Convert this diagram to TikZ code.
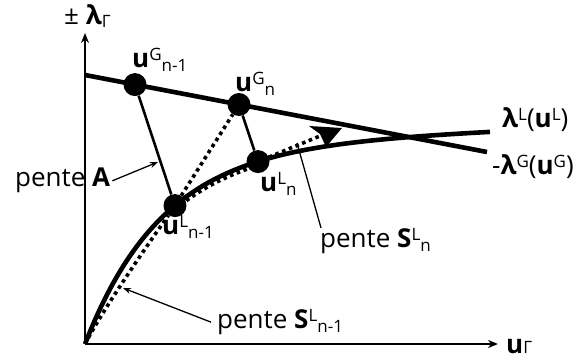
\documentclass[tikz,border=0pt]{standalone}
\usepackage{fontspec}
\setmainfont{Open Sans}
\usetikzlibrary{arrows.meta}
\newcommand\scr[1]{{\fontsize{17}{17}\selectfont #1}}
\newcommand\lbl[3]{\textbf{#1}\raisebox{0.3em}{\scr{#2}}\raisebox{-0.12em}{\scr{#3}}}
\begin{document}
\begin{tikzpicture}[x=1pt,y=-1pt,font=\fontsize{26}{30}\selectfont,
  axis/.style={line width=1.7pt,-{Stealth[length=10pt,width=8pt]}},
  curve/.style={line width=4.6pt},
  conn/.style={line width=2.6pt},
  dotline/.style={line width=3.6pt,dash pattern=on 3.6pt off 3.6pt},
  pointer/.style={line width=1.3pt},
  dot/.style={circle,fill=black,inner sep=0pt,minimum size=23pt},
  txt/.style={inner sep=0pt,anchor=base west}]
\useasboundingbox (0,0) rectangle (587,363);
\coordinate (O) at (85,344);
\coordinate (ytop) at (85,33);
\coordinate (xend) at (498,344);
\draw[axis] (O) -- (ytop);
\draw[axis] (O) -- (xend);
\coordinate (g0) at (85,75);
\coordinate (g1) at (487,152);
\draw[curve] (g0) -- (g1);
\draw[curve] plot[domain=0:405,samples=150] ({85+\x},{344-(197*(1-exp(-\x/78))+0.04*\x)});
\draw[dotline] plot[domain=90:173,samples=40] ({85+\x},{348-(197*(1-exp(-\x/78))+0.04*\x)});
\node[dot] (gA) at (135,84.6) {};
\node[dot] (gB) at (239,104.5) {};
\node[dot] (lA) at (175,205.6) {};
\node[dot] (lB) at (258,161.6) {};
\draw[conn] (gA) -- (lA);
\draw[conn] (gB) -- (lB);
\draw[dotline] (lA) -- (gB);
\draw[dotline] (O) .. controls (106,304) and (154,236) .. (lA);
\coordinate (tip) at (342,128);
\coordinate (hb) at (320,136);
\draw[dotline] (lB) -- (hb);
\fill (tip) -- (309,126) -- (320,134) -- (326,147) -- cycle;
\node[txt] (pm) at (64,25) {±~\textbf{λ}\raisebox{-0.1em}{\scr{Γ}}};
\node[txt] (uGA) at (132,68) {\lbl{u}{G}{n-1}};
\node[txt] (uGB) at (235,92) {\lbl{u}{G}{n}};
\node[txt] (uLB) at (260,192) {\lbl{u}{L}{n}};
\node[txt] (uLA) at (162,235) {\lbl{u}{L}{n-1}};
\node[txt] (lamL) at (502,128) {\textbf{λ}\raisebox{0.3em}{\scr{L}}(\textbf{u}\raisebox{0.3em}{\scr{L}})};
\node[txt] (lamG) at (492,175) {-\textbf{λ}\raisebox{0.3em}{\scr{G}}(\textbf{u}\raisebox{0.3em}{\scr{G}})};
\node[txt] (uG) at (506,354) {\textbf{u}\scr{Γ}};
\node[txt] (pA) at (15,187) {pente \textbf{A}};
\node[txt] (pSn) at (320,248) {pente \lbl{S}{L}{n}};
\node[txt] (pSm) at (217,329) {pente \lbl{S}{L}{n-1}};
\coordinate (aT) at (158,162);
\draw[pointer,-{Stealth[length=8pt,width=6pt]}] ([xshift=2pt]pA.east) -- (aT);
\coordinate (snT) at (297,143);
\draw[pointer] ([xshift=1pt]pSn.north west) -- (snT);
\coordinate (smT) at (123,288);
\draw[pointer,-{Stealth[length=8pt,width=6pt]}] ([xshift=-6pt]pSm.west) -- (smT);
\end{tikzpicture}
\end{document}
